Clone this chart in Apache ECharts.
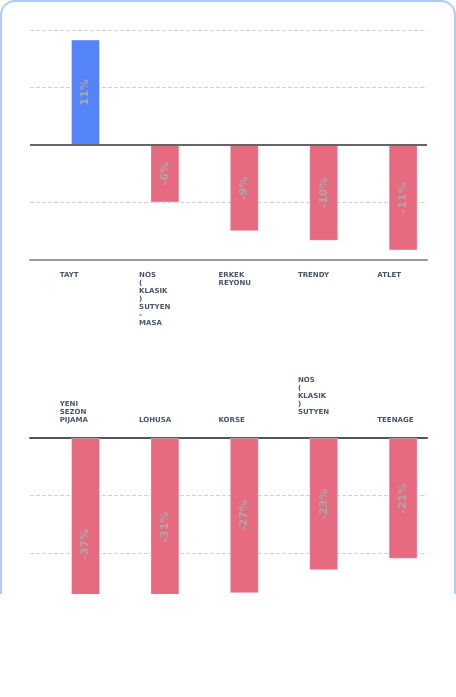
<!DOCTYPE html>
<html>
<head>
<meta charset="utf-8">
<script src="https://cdn.jsdelivr.net/npm/echarts@6/dist/echarts.min.js"></script>
<style>
html,body{margin:0;padding:0;background:#fff;}
#wrap{position:relative;width:456px;height:594px;overflow:hidden;}
#card{position:absolute;left:0;top:0;width:452px;height:720px;border:2px solid #aecbf6;border-radius:15px;}
#chart{position:absolute;left:0;top:0;width:456px;height:720px;}
</style>
</head>
<body>
<div id="wrap"><div id="card"></div><div id="chart"></div></div>
<script>
// Top panel
const categoriesTop = ['TAYT', 'NOS ( KLASIK ) SUTYEN - MASA', 'ERKEK REYONU', 'TRENDY', 'ATLET'];
const valuesTop = [11, -6, -9, -10, -11];
// Bottom panel
const categoriesBottom = ['YENI SEZON PIJAMA', 'LOHUSA', 'KORSE', 'NOS ( KLASIK ) SUTYEN ', 'TEENAGE'];
const valuesBottom = [-37, -31, -27, -23, -21];

const POS = '#5584f9', NEG = '#e66b80';
const labelFont = 'DejaVu Sans';

function catLabel(margin) {
  return {
    interval: 0,
    margin: margin,
    formatter: v => v.split(' ').map(w => '{a|' + (w || ' ') + '}').join('\n'),
    rich: {
      a: { width: 20, height: 8, align: 'left', fontSize: 7, lineHeight: 8, fontWeight: 'bold', color: '#4a5568', fontFamily: labelFont }
    }
  };
}

function barSeries(values, xi, yi, withZero) {
  const s = {
    type: 'bar',
    xAxisIndex: xi, yAxisIndex: yi,
    barWidth: 29, barGap: '9%',
    data: values.map(v => ({ value: v, itemStyle: { color: v >= 0 ? POS : NEG } })),
    itemStyle: { borderColor: 'rgba(255,255,255,0.35)', borderWidth: 1 },
    label: {
      show: true, position: 'inside', rotate: 90,
      formatter: p => p.value + '%',
      color: '#a8a8a8', fontSize: 11, fontWeight: 'bold', fontFamily: 'DejaVu Sans'
    }
  };
  if (withZero) {
    s.markLine = {
      silent: true, symbol: 'none', label: { show: false },
      lineStyle: { color: '#666', type: 'solid', width: 2 },
      data: [{ yAxis: 0 }]
    };
  }
  return s;
}

function dummySeries(n, xi, yi) {
  return { type: 'bar', xAxisIndex: xi, yAxisIndex: yi, barWidth: 29, barGap: '9%', data: new Array(n).fill(null), silent: true };
}

const splitLine = { show: true, lineStyle: { color: '#d2d2d2', type: 'dashed', width: 1 } };

const option = {
  animation: false,
  grid: [
    { left: 30, right: 29, top: 30, height: 230 },
    { left: 30, right: 29, top: 438, height: 230 }
  ],
  xAxis: [
    { type: 'category', gridIndex: 0, data: categoriesTop, position: 'bottom',
      axisLine: { onZero: false, lineStyle: { color: '#999', width: 2 } },
      axisTick: { show: false }, axisLabel: catLabel(11) },
    { type: 'category', gridIndex: 1, data: categoriesBottom, position: 'top',
      axisLine: { onZero: false, lineStyle: { color: '#555', width: 2 } },
      axisTick: { show: false }, axisLabel: catLabel(14) }
  ],
  yAxis: [
    { type: 'value', gridIndex: 0, min: -12, max: 12, interval: 6,
      axisLabel: { show: false }, axisLine: { show: false }, axisTick: { show: false }, splitLine: splitLine },
    { type: 'value', gridIndex: 1, min: -40, max: 0, interval: 10,
      axisLabel: { show: false }, axisLine: { show: false }, axisTick: { show: false }, splitLine: splitLine }
  ],
  series: [
    dummySeries(categoriesTop.length, 0, 0),
    barSeries(valuesTop, 0, 0, true),
    dummySeries(categoriesBottom.length, 1, 1),
    barSeries(valuesBottom, 1, 1, false)
  ]
};

const chart = echarts.init(document.getElementById('chart'), null, { renderer: 'canvas' });
chart.setOption(option);
</script>
</body>
</html>
